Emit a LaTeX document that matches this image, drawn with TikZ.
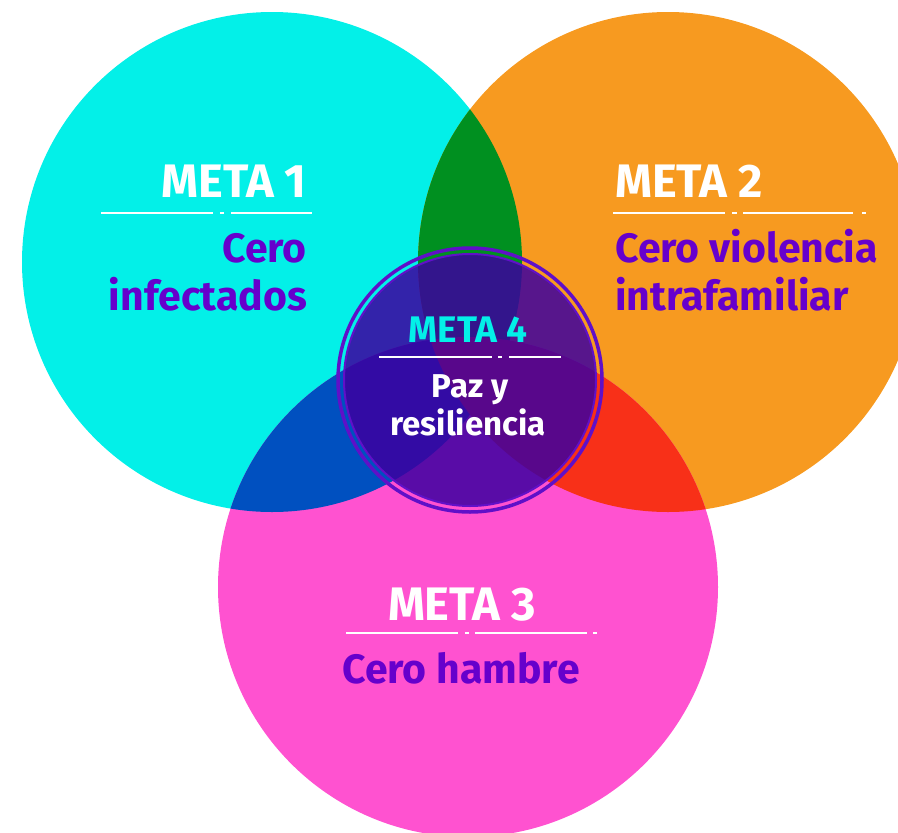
\documentclass[tikz,border=0pt]{standalone}
\usepackage{fontspec}
\setmainfont{Fira Sans}
\definecolor{metacyan}{RGB}{3,240,232}
\definecolor{metaorange}{RGB}{247,154,32}
\definecolor{metapink}{RGB}{255,82,208}
\definecolor{metagreen}{RGB}{0,144,32}
\definecolor{metablue}{RGB}{0,80,192}
\definecolor{metared}{RGB}{248,48,24}
\definecolor{metatext}{RGB}{102,0,204}
\definecolor{metaring}{RGB}{96,16,200}
\definecolor{metacore}{RGB}{60,0,160}
\tikzset{
  goaltitle/.style={inner sep=0pt, text=white, font=\bfseries\fontsize{47}{47}\selectfont},
  goalname/.style={inner sep=0pt, text=metatext, font=\bfseries\fontsize{41}{41}\selectfont},
  corename/.style={inner sep=0pt, text=white, font=\bfseries\fontsize{33}{33}\selectfont},
  rule/.style={white, line width=2pt},
  ruledot/.style={white, line width=2pt, line cap=butt},
}
\begin{document}
\begin{tikzpicture}[x=1pt, y=-1pt]
\useasboundingbox (0,0) rectangle (898,833);
\clip (0,0) rectangle (898,833);
\coordinate (c1) at (272,262);
\coordinate (c2) at (668,262);
\coordinate (c3) at (468,587);
\coordinate (c4) at (470,380);
\fill[metacyan] (c1) circle[radius=250pt];
\fill[metaorange] (c2) circle[radius=250pt];
\fill[metapink] (c3) circle[radius=250pt];
\begin{scope}
\clip (c1) circle[radius=250pt];
\fill[metagreen] (c2) circle[radius=250pt];
\fill[metablue] (c3) circle[radius=250pt];
\end{scope}
\begin{scope}
\clip (c2) circle[radius=250pt];
\fill[metared] (c3) circle[radius=250pt];
\end{scope}
\draw[metaring, line width=3.5pt] (c4) circle[radius=132pt];
\draw[metaring, line width=2pt, fill=metacore, fill opacity=0.85] (c4) circle[radius=126pt];

\node[goaltitle, anchor=base east] (t1) at (307,197) {META 1};
\draw[rule] (101,213) -- (213,213);
\draw[ruledot] (220,213) -- (224,213);
\draw[rule] (231,213) -- (312,213);
\node[goalname, anchor=base east] (g1a) at (307,262) {Cero};
\node[goalname, anchor=base east] (g1b) at (307,310) {infectados};

\node[goaltitle, anchor=base west] (t2) at (615,197) {META 2};
\draw[rule] (613,213) -- (725,213);
\draw[ruledot] (732,213) -- (737,213);
\draw[rule] (743,213) -- (853,213);
\draw[ruledot] (862,213) -- (866,213);
\node[goalname, anchor=base west] (g2a) at (615,262) {Cero violencia};
\node[goalname, anchor=base west] (g2b) at (615,310) {intrafamiliar};

\node[goaltitle, anchor=base] (t3) at (462,620) {META 3};
\draw[rule] (346,633) -- (458,633);
\draw[ruledot] (465,633) -- (469,633);
\draw[rule] (475,633) -- (587,633);
\draw[ruledot] (593,633) -- (597,633);
\node[goalname, anchor=base] (g3) at (461,683) {Cero hambre};

\node[goaltitle, text=metacyan, font=\bfseries\fontsize{37}{37}\selectfont, anchor=base] (t4) at (468,342) {META 4};
\draw[rule] (379,357) -- (492,357);
\draw[ruledot] (498,357) -- (502,357);
\draw[rule] (509,357) -- (561,357);
\node[corename, anchor=base] (g4a) at (470,397) {Paz y};
\node[corename, anchor=base] (g4b) at (468,435) {resiliencia};
\end{tikzpicture}
\end{document}
